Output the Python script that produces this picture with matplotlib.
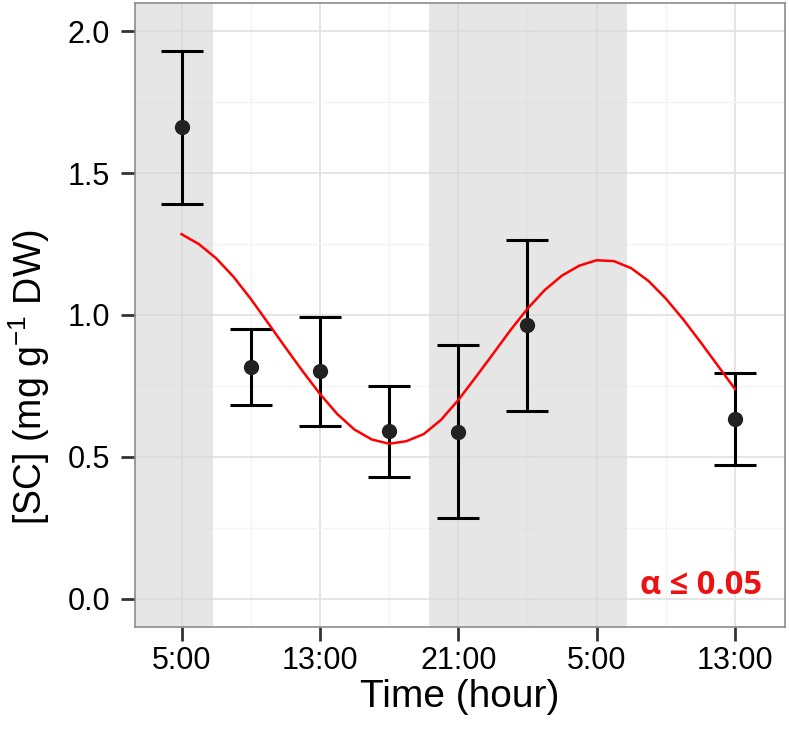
import matplotlib
matplotlib.use('Agg')
import matplotlib.pyplot as plt

# sampling times (hours from midnight of day 1)
hours = [5, 9, 13, 17, 21, 25, 37]
sc_mean = [1.662, 0.816, 0.802, 0.590, 0.588, 0.963, 0.632]
sc_err = [0.270, 0.135, 0.192, 0.161, 0.305, 0.300, 0.162]

# fitted curve, one value per hour
fit_hours = list(range(5, 38))
fit_vals = [1.285, 1.250, 1.200, 1.135, 1.057, 0.972, 0.886, 0.802, 0.722,
            0.651, 0.596, 0.561, 0.546, 0.555, 0.580, 0.630, 0.700, 0.780,
            0.862, 0.945, 1.022, 1.088, 1.139, 1.174, 1.193, 1.190, 1.165,
            1.120, 1.058, 0.985, 0.905, 0.822, 0.739]

# dark periods
nights = [(0.0, 6.8), (19.3, 30.75)]

tick_hours = [5, 13, 21, 29, 37]
tick_labels = ['5:00', '13:00', '21:00', '5:00', '13:00']

plt.rcParams['font.family'] = ['Liberation Sans', 'DejaVu Sans']
plt.rcParams['mathtext.fontset'] = 'custom'
plt.rcParams['mathtext.rm'] = 'Liberation Sans'
plt.rcParams['mathtext.it'] = 'Liberation Sans'

fig = plt.figure(figsize=(7.89, 7.31), dpi=100)
ax = fig.add_axes([0.1711, 0.1423, 0.8238, 0.8536])

for a, b in nights:
    ax.axvspan(a, b, color='#d6d6d6', alpha=0.6, lw=0, zorder=1)

ax.errorbar(hours, sc_mean, yerr=sc_err, fmt='o', color='black', ms=10,
            mfc='#222222', mec='#222222', elinewidth=2.2, capsize=15,
            capthick=2.2, zorder=3)
ax.plot(fit_hours, fit_vals, color='#ff0000', lw=1.8, zorder=4,
        solid_joinstyle='round')

ax.text(0.9646, 0.0529, 'α ≤ 0.05', transform=ax.transAxes, ha='right',
        va='baseline', color='#ee1111', fontsize=23.5, fontweight='bold',
        family=['Open Sans', 'DejaVu Sans'])

ax.set_xlim(2.31, 39.89)
ax.set_ylim(-0.1, 2.1)
ax.set_xticks(tick_hours)
ax.set_xticklabels(tick_labels)
ax.set_xticks([9, 17, 25, 33], minor=True)
ax.set_yticks([0, 0.5, 1.0, 1.5, 2.0])
ax.set_yticklabels(['0.0', '0.5', '1.0', '1.5', '2.0'])
ax.set_yticks([0.25, 0.75, 1.25, 1.75], minor=True)

ax.grid(which='major', color='#e3e3e3', lw=1.3, zorder=0)
ax.grid(which='minor', color='#f4f4f4', lw=1.0, zorder=0)
ax.set_axisbelow(True)

ax.tick_params(which='major', length=10, width=2, color='#333333',
               labelsize=22, labelcolor='black')
ax.tick_params(axis='x', which='major', pad=4)
ax.tick_params(axis='y', which='major', pad=8)
ax.tick_params(which='minor', length=0)

for s in ax.spines.values():
    s.set_color('#8c8c8c')
    s.set_linewidth(1.2)

ax.set_xlabel('Time (hour)', fontsize=28, labelpad=2)
ax.set_ylabel('[SC] (mg g$^{-1}$ DW)', fontsize=27)
ax.yaxis.set_label_coords(-0.128, 0.40)

fig.savefig('out.png', dpi=100)
